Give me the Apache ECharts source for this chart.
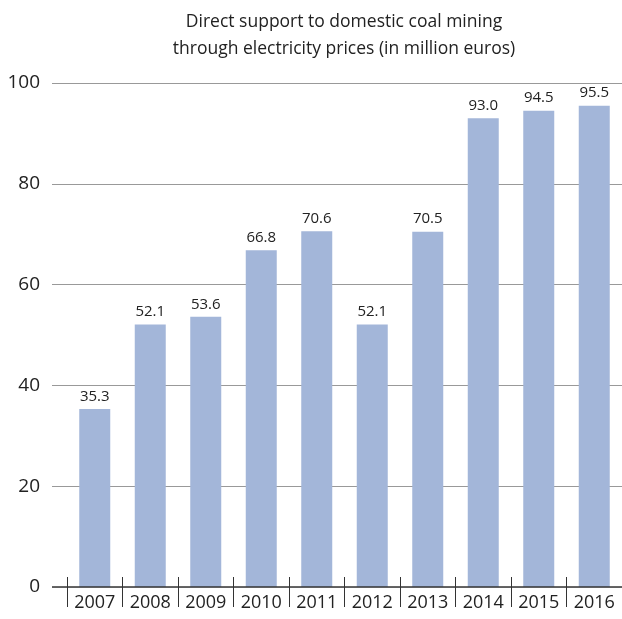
<!DOCTYPE html>
<html>
<head>
<meta charset="utf-8">
<script src="https://cdn.jsdelivr.net/npm/echarts@6/dist/echarts.min.js"></script>
<style>
  html, body { margin: 0; padding: 0; background: #fff; }
  #chart { width: 622px; height: 619px; }
</style>
</head>
<body>
<div id="chart"></div>
<script>
// 年份和数值
const years = ['2007', '2008', '2009', '2010', '2011', '2012', '2013', '2014', '2015', '2016']
const support = [35.3, 52.1, 53.6, 66.8, 70.6, 52.1, 70.5, 93.0, 94.5, 95.5]
const yTicks = [0, 20, 40, 60, 80, 100]

const font = 'Open Sans'
const chart = echarts.init(document.getElementById('chart'))

const option = {
  animation: false,
  textStyle: { fontFamily: font },
  title: {
    text: 'Direct support to domestic coal mining\nthrough electricity prices (in million euros)',
    left: 339,
    top: 4,
    textAlign: 'center',
    textStyle: { fontFamily: font, fontSize: 17.5, fontWeight: 'normal', color: '#222', lineHeight: 27 },
  },
  grid: [
    // 网格线和y轴
    { left: 52, right: 0, top: 83, bottom: 32 },
    // 柱子
    { left: 67, right: 0, top: 83, bottom: 32 },
  ],
  xAxis: [
    { gridIndex: 0, type: 'value', show: false, min: 0, max: 1 },
    {
      gridIndex: 1,
      type: 'category',
      position: 'bottom',
      data: years,
      axisLine: { show: false },
      axisTick: { show: true, length: 20, lineStyle: { color: '#333' } },
      axisLabel: { fontSize: 18, color: '#222', margin: 7 },
    },
    {
      gridIndex: 1,
      type: 'category',
      position: 'bottom',
      data: years,
      axisLine: { show: false },
      axisTick: { show: true, inside: true, length: 10, lineStyle: { color: '#333' } },
      axisLabel: { show: false },
    },
  ],
  yAxis: [
    {
      gridIndex: 0,
      type: 'value',
      min: 0,
      max: 100,
      interval: 20,
      axisLine: { show: false },
      axisTick: { show: false },
      axisLabel: {
        fontSize: 19,
        color: '#222',
        margin: 12,
        customValues: yTicks,
      },
      splitLine: { lineStyle: { color: '#999', width: 1 } },
    },
    { gridIndex: 1, type: 'value', min: 0, max: 100, show: false },
  ],
  series: [
    {
      type: 'bar',
      xAxisIndex: 1,
      yAxisIndex: 1,
      data: support,
      barWidth: 31,
      itemStyle: { color: '#a3b6d9' },
      label: {
        show: true,
        position: 'top',
        distance: 5,
        fontSize: 15,
        color: '#222',
        formatter: (p) => p.value.toFixed(1),
      },
    },
    {
      // 底部横轴线
      type: 'line',
      xAxisIndex: 0,
      yAxisIndex: 0,
      data: [[0, 0], [1, 0]],
      symbol: 'none',
      silent: true,
      lineStyle: { color: '#333', width: 1.5 },
      z: 5,
    },
  ],
}

chart.setOption(option)
</script>
</body>
</html>
